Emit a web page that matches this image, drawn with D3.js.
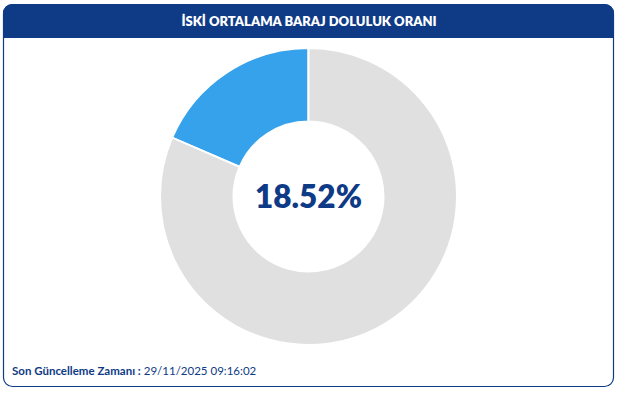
<!DOCTYPE html>
<html>
<head>
<meta charset="utf-8">
<script src="https://cdn.jsdelivr.net/npm/d3@7"></script>
<style>
  html, body { margin: 0; padding: 0; background: #fff; }
  svg { display: block; }
</style>
</head>
<body>
<div id="chart"></div>
<script>
const title = 'İSKİ ORTALAMA BARAJ DOLULUK ORANI';
const labels = ['Dolu', 'Boş'];
const values = [18.52, 81.48];
const colors = ['#36a2eb', '#e0e0e0'];
const updateLabel = 'Son Güncelleme Zamanı :';
const updateTime = '29/11/2025 09:16:02';

const width = 619, height = 395;
const navy = '#0e3a86';

const svg = d3.select('#chart').append('svg')
  .attr('width', width)
  .attr('height', height);

// card
svg.append('rect')
  .attr('x', 3.5).attr('y', 4.5)
  .attr('width', 610).attr('height', 382)
  .attr('rx', 9)
  .attr('fill', '#fff')
  .attr('stroke', navy)
  .attr('stroke-width', 1.2);

// header band
const clip = svg.append('clipPath').attr('id', 'hdr');
clip.append('rect')
  .attr('x', 3).attr('y', 4)
  .attr('width', 611).attr('height', 60)
  .attr('rx', 9);
svg.append('rect')
  .attr('clip-path', 'url(#hdr)')
  .attr('x', 3).attr('y', 4)
  .attr('width', 611).attr('height', 34)
  .attr('fill', navy);

svg.append('text')
  .attr('x', 309).attr('y', 21)
  .attr('text-anchor', 'middle')
  .attr('dy', '0.35em')
  .style('font-family', 'Lato, "Open Sans", sans-serif')
  .style('font-weight', 800)
  .style('font-size', '13px')
  .attr('fill', '#fff')
  .text(title);

// donut
const cx = 308.5, cy = 196.5;
const outer = 148.5, inner = 75;

const pie = d3.pie()
  .sort(null)
  .startAngle(0)
  .endAngle(-2 * Math.PI)
  .value(d => d);

const arc = d3.arc()
  .innerRadius(inner)
  .outerRadius(outer);

const g = svg.append('g').attr('transform', `translate(${cx},${cy})`);

g.selectAll('path')
  .data(pie(values))
  .enter()
  .append('path')
  .attr('d', arc)
  .attr('fill', (d, i) => colors[i])
  .attr('stroke', '#fff')
  .attr('stroke-width', 2);

g.append('text')
  .attr('text-anchor', 'middle')
  .attr('dy', '0.35em')
  .style('font-family', 'Lato, "Open Sans", sans-serif')
  .style('font-weight', 800)
  .style('font-size', '31.5px')
  .attr('fill', navy)
  .text(values[0].toFixed(2) + '%');

// footer
const foot = svg.append('text')
  .attr('x', 12).attr('y', 375)
  .style('font-family', 'Lato, "Open Sans", sans-serif')
  .style('font-size', '11.5px')
  .attr('fill', navy);
foot.append('tspan').style('font-weight', 700).text(updateLabel);
foot.append('tspan').text(' ' + updateTime);
</script>
</body>
</html>
